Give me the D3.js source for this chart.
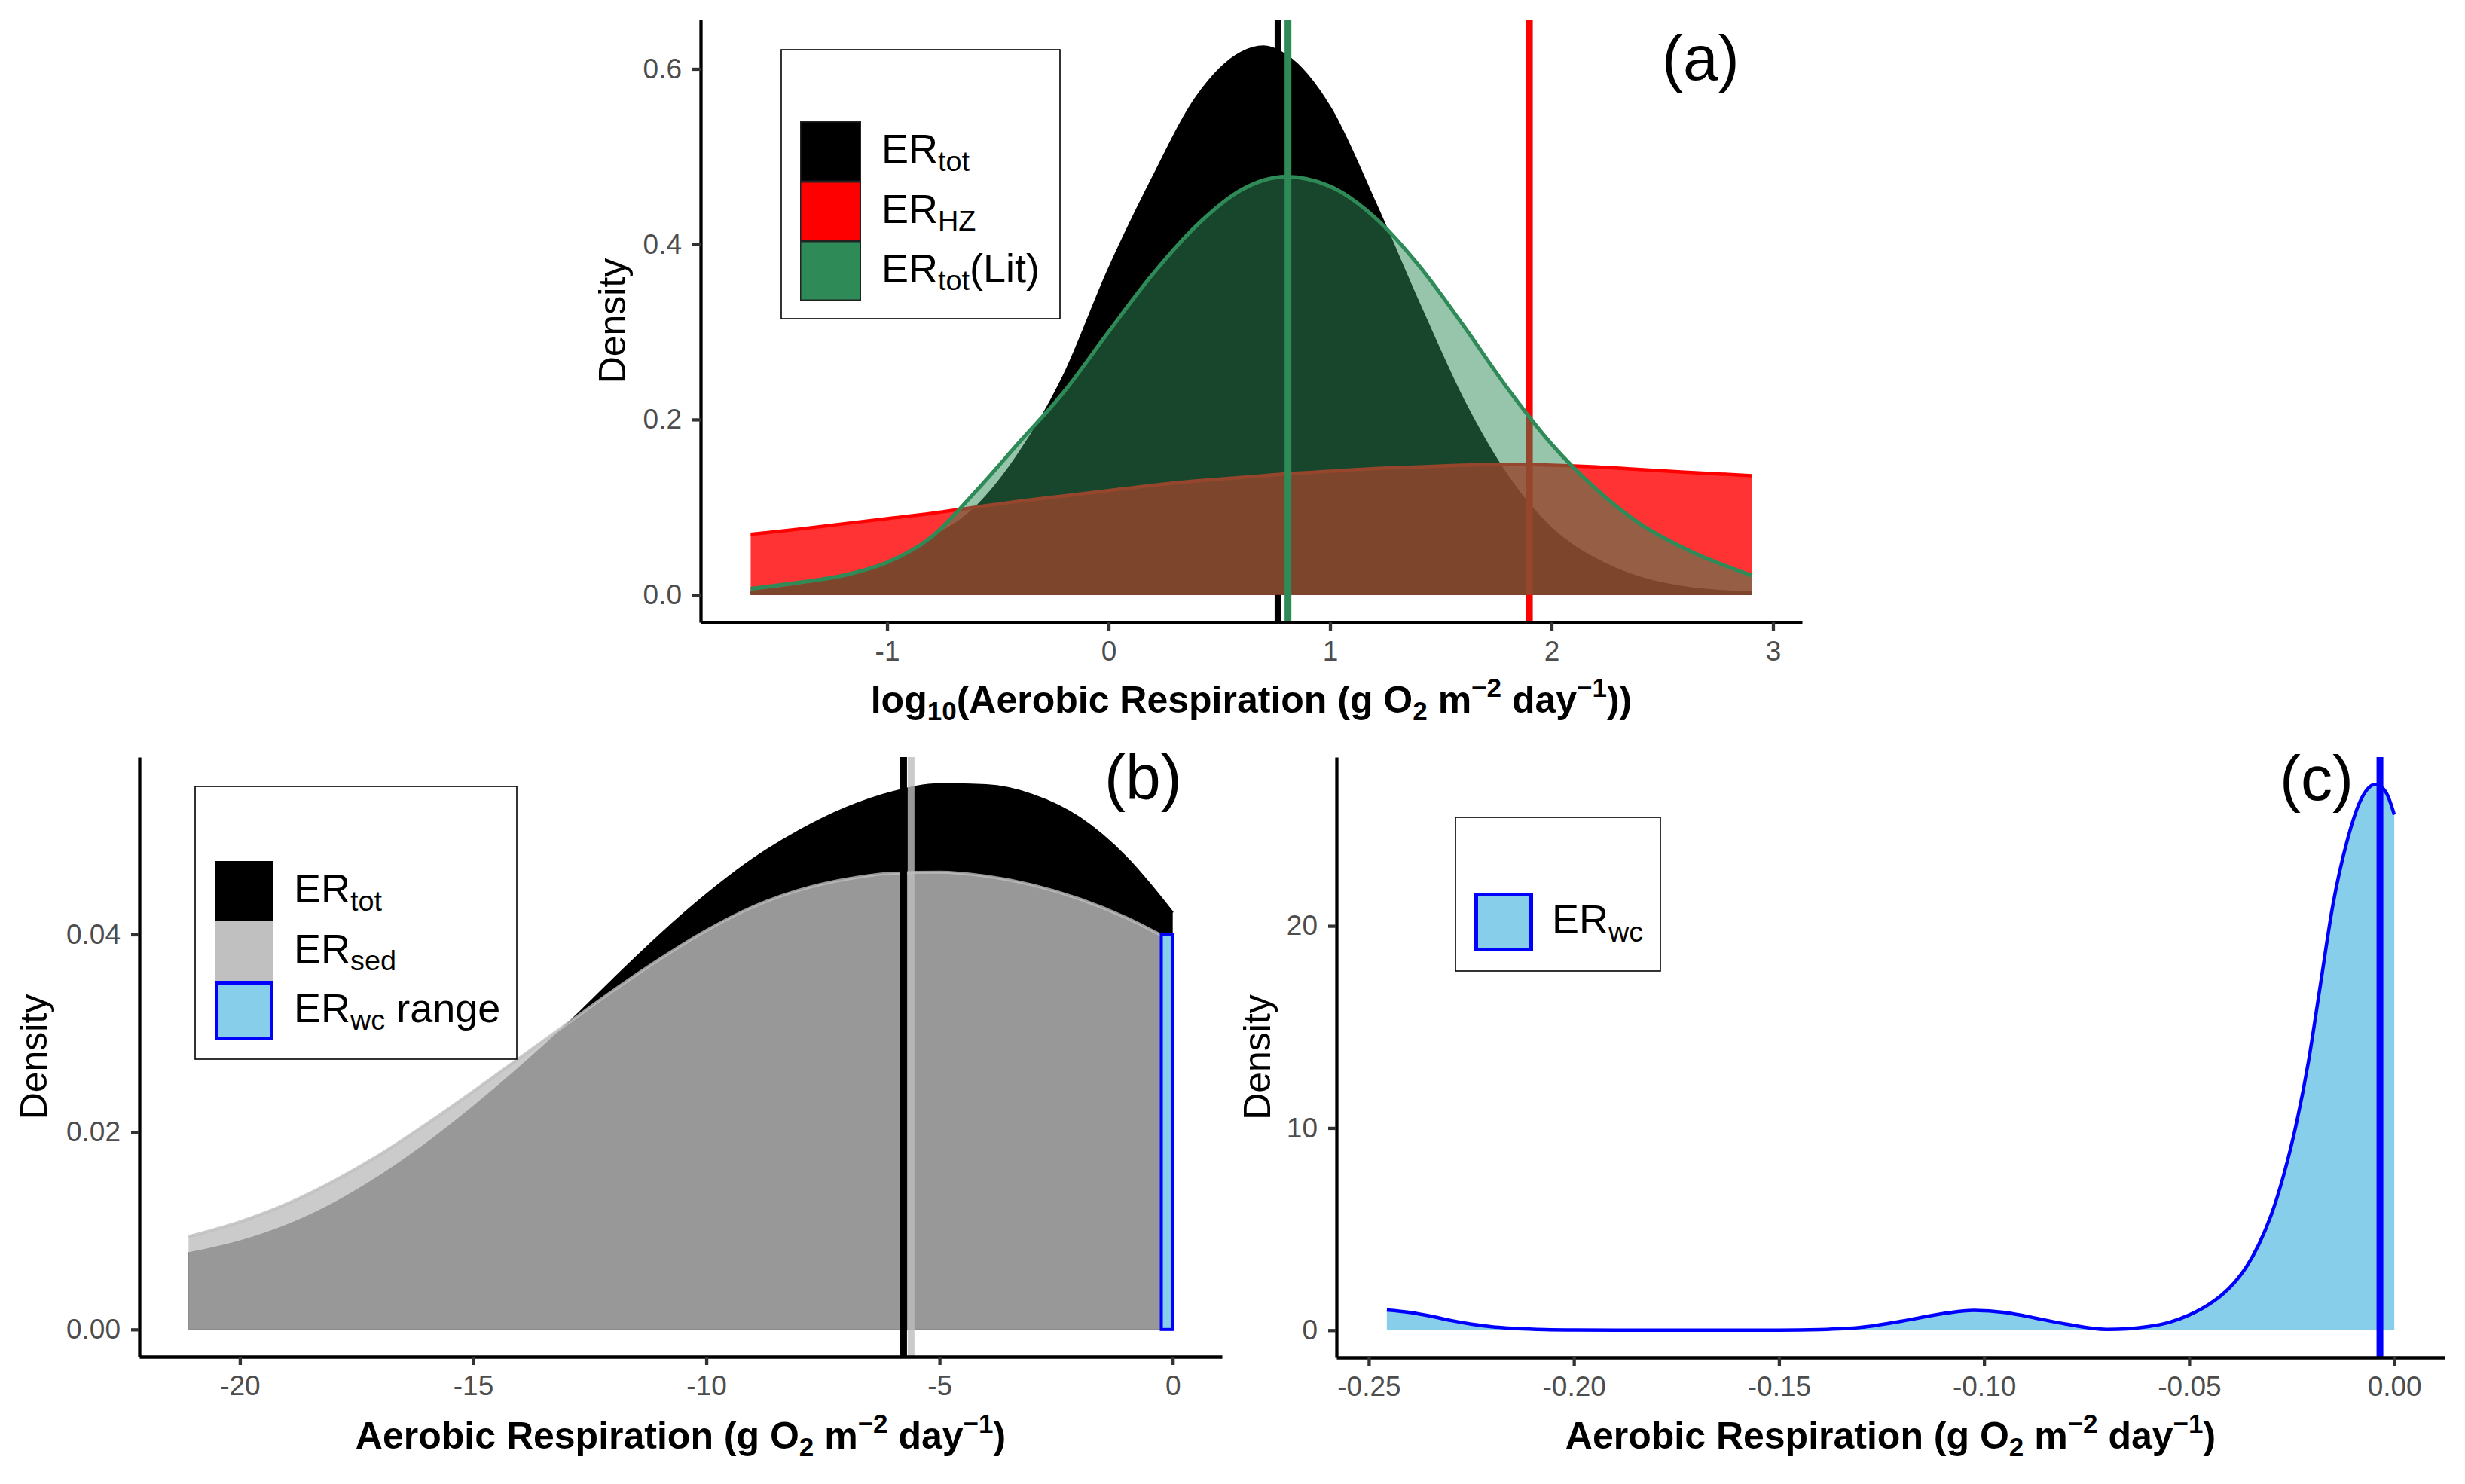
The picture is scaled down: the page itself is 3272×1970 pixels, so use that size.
<!DOCTYPE html>
<html>
<head>
  <meta charset="utf-8">
  <title>Aerobic respiration densities</title>
  <style>
    body { margin: 0; background: #fff; }
    text { font-family: "Liberation Sans", Arial, sans-serif; }
  </style>
</head>
<body>
  <div id="chart"></div>
  <script src="https://d3js.org/d3.v7.min.js"></script>
  <script>
    // ---- data ----
    // panel (a): log10 scale densities
    const aX   = [-1.616, -1.4, -1.2, -1.0, -0.8, -0.6, -0.4, -0.2, 0.0, 0.2, 0.4, 0.6, 0.7, 0.8, 1.0, 1.2, 1.4, 1.6, 1.8, 2.0, 2.2, 2.4, 2.6, 2.905];
    const aTot = [0.003, 0.010, 0.019, 0.035, 0.064, 0.099, 0.162, 0.250, 0.370, 0.475, 0.568, 0.618, 0.625, 0.615, 0.555, 0.448, 0.332, 0.222, 0.135, 0.075, 0.040, 0.019, 0.008, 0.002];
    const aHZ  = [0.069, 0.075, 0.081, 0.087, 0.093, 0.100, 0.107, 0.113, 0.119, 0.125, 0.130, 0.134, 0.136, 0.138, 0.141, 0.144, 0.146, 0.148, 0.149, 0.148, 0.146, 0.143, 0.140, 0.136];
    const aLit = [0.007, 0.014, 0.022, 0.037, 0.066, 0.118, 0.175, 0.232, 0.300, 0.366, 0.422, 0.462, 0.473, 0.477, 0.466, 0.431, 0.376, 0.308, 0.236, 0.172, 0.121, 0.081, 0.053, 0.022];
    const aMeans = [0.765, 1.90, 0.81];           // tot, HZ, Lit
    const aXTicks = [-1, 0, 1, 2, 3];
    const aXLabels = ['-1', '0', '1', '2', '3'];
    const aYTicks = [0, 0.2, 0.4, 0.6];
    const aYLabels = ['0.0', '0.2', '0.4', '0.6'];

    // panel (b)
    const bX   = [-21.1, -20, -19, -18, -17, -16, -15, -14, -13, -12, -11, -10, -9, -8, -7, -6, -5, -4, -3, -2, -1, 0];
    const bTot = [0.0077, 0.0089, 0.0105, 0.0127, 0.0155, 0.0188, 0.0225, 0.0265, 0.0308, 0.0354, 0.0399, 0.0440, 0.0476, 0.0505, 0.0528, 0.0544, 0.0552, 0.0551, 0.0541, 0.0518, 0.0478, 0.0422];
    const bSed = [0.0094, 0.0109, 0.0127, 0.0150, 0.0177, 0.0208, 0.0241, 0.0275, 0.0309, 0.0343, 0.0375, 0.0404, 0.0428, 0.0445, 0.0456, 0.0462, 0.0463, 0.0459, 0.0450, 0.0436, 0.0417, 0.0393];
    const bMeans = [-5.77, -5.61];                // tot, sed
    const bWcRange = [-0.245, 0];
    const bWcHeight = 0.040;
    const bXTicks = [-20, -15, -10, -5, 0];
    const bXLabels = ['-20', '-15', '-10', '-5', '0'];
    const bYTicks = [0, 0.02, 0.04];
    const bYLabels = ['0.00', '0.02', '0.04'];

    // panel (c)
    const cX = [-0.2456, -0.24, -0.235, -0.23, -0.225, -0.22, -0.21, -0.20, -0.19, -0.15, -0.14, -0.13, -0.12, -0.11, -0.1025, -0.095, -0.09, -0.08, -0.07, -0.065, -0.06, -0.055, -0.05, -0.045, -0.042, -0.039, -0.036, -0.033, -0.03, -0.027, -0.024, -0.021, -0.018, -0.015, -0.0115, -0.008, -0.0046, -0.002, 0.0];
    const cWc = [1.0, 0.88, 0.70, 0.48, 0.30, 0.17, 0.05, 0.01, 0.0, 0.0, 0.03, 0.14, 0.45, 0.82, 0.98, 0.88, 0.70, 0.30, 0.04, 0.07, 0.18, 0.38, 0.75, 1.30, 1.75, 2.35, 3.15, 4.25, 5.70, 7.65, 10.1, 13.2, 17.1, 21.0, 24.2, 26.3, 27.0, 26.6, 25.5];
    const cMean = -0.0035;
    const cXTicks = [-0.25, -0.20, -0.15, -0.10, -0.05, 0];
    const cXLabels = ['-0.25', '-0.20', '-0.15', '-0.10', '-0.05', '0.00'];
    const cYTicks = [0, 10, 20];
    const cYLabels = ['0', '10', '20'];

    // ---- layout ----
    const W = 3272, H = 1970;
    const font = '"Liberation Sans", Arial, sans-serif';
    const svg = d3.select('#chart').append('svg')
      .attr('width', W).attr('height', H)
      .style('background', '#fff');

    function expand(lo, hi) {
      let pad = (hi - lo) * 0.05;
      return [lo - pad, hi + pad];
    }

    function styleAxis(g) {
      g.attr('font-family', font).attr('font-size', 37);
      g.select('.domain').attr('stroke', '#000').attr('stroke-width', 4.3);
      g.selectAll('.tick line').attr('stroke', '#333').attr('stroke-width', 4.3);
      g.selectAll('.tick text').attr('fill', '#4d4d4d');
    }

    // writes text with sub / superscripts given as [text, kind] parts
    function rich(t, parts, size) {
      let cur = 0;
      parts.forEach(p => {
        let kind = p[1];
        let target = kind === 'sub' ? size * 0.2 : kind === 'sup' ? -size * 0.42 : 0;
        t.append('tspan')
          .attr('dy', target - cur)
          .attr('font-size', kind ? size * 0.7 : size)
          .text(p[0]);
        cur = target;
      });
    }

    const titleParts = [['Aerobic Respiration (g O', ''], ['2', 'sub'], [' m', ''], ['\u22122', 'sup'],
      [' day', ''], ['\u22121', 'sup'], [')', '']];
    const titlePartsLog = [['log', ''], ['10', 'sub'], ['(Aerobic Respiration (g O', ''], ['2', 'sub'], [' m', ''],
      ['\u22122', 'sup'], [' day', ''], ['\u22121', 'sup'], ['))', '']];

    function makePanel(box, xDom, yDom, xt, xl, yt, yl, xTitle, yTitleX, titleY) {
      let x = d3.scaleLinear().domain(xDom).range([box.left, box.right]);
      let y = d3.scaleLinear().domain(yDom).range([box.bottom, box.top]);
      let g = svg.append('g');
      let dataLayer = g.append('g');

      let xa = g.append('g').attr('transform', 'translate(0,' + box.bottom + ')')
        .call(d3.axisBottom(x).tickValues(xt).tickFormat((d, i) => xl[i])
          .tickSize(11).tickSizeOuter(0).tickPadding(14));
      styleAxis(xa);
      let ya = g.append('g').attr('transform', 'translate(' + box.left + ',0)')
        .call(d3.axisLeft(y).tickValues(yt).tickFormat((d, i) => yl[i])
          .tickSize(11).tickSizeOuter(0).tickPadding(14));
      styleAxis(ya);

      let xt0 = g.append('text')
        .attr('x', (box.left + box.right) / 2).attr('y', titleY)
        .attr('text-anchor', 'middle').attr('font-weight', 'bold').attr('fill', '#000');
      rich(xt0, xTitle, 50);

      g.append('text')
        .attr('transform', 'translate(' + yTitleX + ',' + (box.top + box.bottom) / 2 + ') rotate(-90)')
        .attr('text-anchor', 'middle').attr('font-size', 50).attr('fill', '#000')
        .text('Density');

      return { x: x, y: y, layer: dataLayer, box: box };
    }

    function density(p, xs, ys, fill, fillOpacity, stroke, strokeOpacity, sw) {
      let pts = d3.zip(xs, ys);
      let area = d3.area().x(d => p.x(d[0])).y0(p.y(0)).y1(d => p.y(d[1])).curve(d3.curveMonotoneX);
      let line = d3.line().x(d => p.x(d[0])).y(d => p.y(d[1])).curve(d3.curveMonotoneX);
      p.layer.append('path').attr('d', area(pts))
        .attr('fill', fill).attr('fill-opacity', fillOpacity).attr('stroke', 'none');
      p.layer.append('path').attr('d', line(pts))
        .attr('fill', 'none').attr('stroke', stroke).attr('stroke-opacity', strokeOpacity)
        .attr('stroke-width', sw);
    }

    function vline(p, v, color, opacity) {
      p.layer.append('line')
        .attr('x1', p.x(v)).attr('x2', p.x(v))
        .attr('y1', p.box.top).attr('y2', p.box.bottom)
        .attr('stroke', color).attr('stroke-opacity', opacity).attr('stroke-width', 9);
    }

    function legend(box, keyX, keyW, rows, labelX) {
      let g = svg.append('g');
      g.append('rect').attr('x', box[0]).attr('y', box[1])
        .attr('width', box[2] - box[0]).attr('height', box[3] - box[1])
        .attr('fill', '#fff').attr('stroke', '#000').attr('stroke-width', 1.6);
      rows.forEach(r => {
        let inset = r.sw ? r.sw / 2 : 0;
        g.append('rect')
          .attr('x', keyX + inset).attr('y', r.y0 + inset)
          .attr('width', keyW - 2 * inset).attr('height', r.y1 - r.y0 - 2 * inset)
          .attr('fill', r.fill).attr('stroke', r.stroke || 'none').attr('stroke-width', r.sw || 0);
        let t = g.append('text').attr('x', labelX).attr('y', (r.y0 + r.y1) / 2 + 15).attr('fill', '#000');
        rich(t, r.label, 54);
      });
    }

    function tag(x, yb, txt) {
      svg.append('text').attr('x', x).attr('y', yb)
        .attr('font-size', 84).attr('fill', '#000')
        .text(txt);
    }

    // ---- panel (a) ----
    let pa = makePanel({ left: 930, right: 2392, top: 26, bottom: 826 },
      expand(d3.min(aX), d3.max(aX)), expand(0, d3.max(aTot)),
      aXTicks, aXLabels, aYTicks, aYLabels, titlePartsLog, 830, 946);
    density(pa, aX, aTot, '#000', 1, '#000', 1, 4);
    vline(pa, aMeans[0], '#000', 1);
    density(pa, aX, aHZ, '#ff0000', 0.8, '#ff0000', 1, 4.5);
    vline(pa, aMeans[1], '#ff0000', 1);
    density(pa, aX, aLit, '#2e8b57', 0.5, '#2e8b57', 1, 5);
    vline(pa, aMeans[2], '#2e8b57', 1);

    legend([1037, 66, 1407, 423], 1062, 81, [
      { y0: 161, y1: 241, fill: '#000', stroke: '#222', sw: 1.5, label: [['ER', ''], ['tot', 'sub']] },
      { y0: 241, y1: 320, fill: '#ff0000', stroke: '#222', sw: 1.5, label: [['ER', ''], ['HZ', 'sub']] },
      { y0: 320, y1: 399, fill: '#2e8b57', stroke: '#222', sw: 1.5, label: [['ER', ''], ['tot', 'sub'], ['(Lit)', '']] }
    ], 1170);
    tag(2206, 106, '(a)');

    // ---- panel (b) ----
    let pb = makePanel({ left: 185, right: 1622, top: 1005, bottom: 1801 },
      expand(d3.min(bX), d3.max(bX)), expand(0, d3.max(bTot)),
      bXTicks, bXLabels, bYTicks, bYLabels, titleParts, 62, 1923);
    density(pb, bX, bTot, '#000', 1, '#000', 1, 3);
    density(pb, bX, bSed, '#bebebe', 0.8, '#bebebe', 0.8, 4);
    vline(pb, bMeans[0], '#000', 1);
    vline(pb, bMeans[1], '#bebebe', 0.8);
    pb.layer.append('rect')
      .attr('x', pb.x(bWcRange[0])).attr('y', pb.y(bWcHeight))
      .attr('width', pb.x(bWcRange[1]) - pb.x(bWcRange[0]))
      .attr('height', pb.y(0) - pb.y(bWcHeight))
      .attr('fill', '#87ceeb').attr('stroke', '#0000ff').attr('stroke-width', 4);

    legend([259, 1044, 686, 1406], 285, 78, [
      { y0: 1143, y1: 1223, fill: '#000', label: [['ER', ''], ['tot', 'sub']] },
      { y0: 1223, y1: 1302, fill: '#c0c0c0', label: [['ER', ''], ['sed', 'sub']] },
      { y0: 1302, y1: 1381, fill: '#87ceeb', stroke: '#0000ff', sw: 5, label: [['ER', ''], ['wc', 'sub'], [' range', '']] }
    ], 390);
    tag(1466, 1061, '(b)');

    // ---- panel (c) ----
    let pc = makePanel({ left: 1774, right: 3245, top: 1005, bottom: 1802 },
      expand(d3.min(cX), d3.max(cX)), expand(0, d3.max(cWc)),
      cXTicks, cXLabels, cYTicks, cYLabels, titleParts, 1686, 1923);
    density(pc, cX, cWc, '#87ceeb', 1, '#0000ff', 1, 4.5);
    vline(pc, cMean, '#0000ff', 1);

    legend([1932, 1085, 2204, 1289], 1957, 78, [
      { y0: 1185, y1: 1263, fill: '#87ceeb', stroke: '#0000ff', sw: 5, label: [['ER', ''], ['wc', 'sub']] }
    ], 2060);
    tag(3026, 1062, '(c)');
  </script>
</body>
</html>
